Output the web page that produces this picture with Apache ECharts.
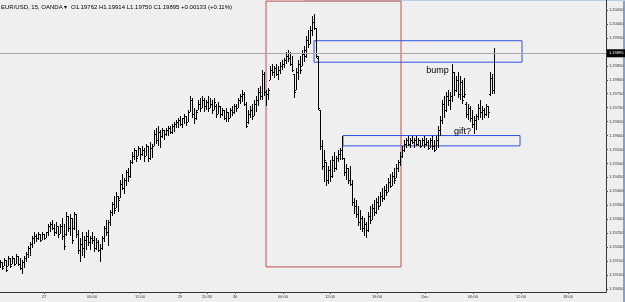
<!DOCTYPE html>
<html><head><meta charset="utf-8">
<script src="https://cdn.jsdelivr.net/npm/echarts@6/dist/echarts.min.js"></script>
<style>html,body{margin:0;padding:0;background:#efefef}#c{width:625px;height:302px}</style>
</head><body><div id="c"></div>
<script>
const symbolName = 'EUR/USD, 15, OANDA \u25BE';
const quoteText = 'O1.19762 H1.19914 L1.19750 C1.19895 +0.00133 (+0.11%)';
// [open, high, low, close] per 15-minute bar
const ohlc = [
[1.19133,1.19154,1.19125,1.19147],[1.19147,1.19147,1.19118,1.19125],[1.19133,1.19161,1.19133,1.19154],[1.19154,1.19154,1.19111,1.19118],
[1.19133,1.19168,1.19133,1.19161],[1.19161,1.19161,1.19125,1.19133],[1.19140,1.19168,1.19140,1.19161],[1.19161,1.19161,1.19133,1.19140],
[1.19140,1.19176,1.19140,1.19168],[1.19168,1.19168,1.19133,1.19140],[1.19140,1.19161,1.19118,1.19125],[1.19125,1.19154,1.19104,1.19147],
[1.19147,1.19168,1.19125,1.19161],[1.19161,1.19183,1.19147,1.19176],[1.19176,1.19204,1.19161,1.19197],[1.19197,1.19219,1.19168,1.19212],
[1.19212,1.19240,1.19197,1.19233],[1.19233,1.19255,1.19212,1.19240],[1.19240,1.19247,1.19219,1.19233],[1.19233,1.19255,1.19226,1.19247],
[1.19247,1.19247,1.19219,1.19226],[1.19226,1.19255,1.19226,1.19247],[1.19247,1.19247,1.19226,1.19233],[1.19233,1.19255,1.19233,1.19255],
[1.19255,1.19283,1.19240,1.19276],[1.19276,1.19290,1.19255,1.19283],[1.19283,1.19298,1.19262,1.19269],[1.19269,1.19283,1.19240,1.19255],
[1.19255,1.19290,1.19247,1.19276],[1.19276,1.19276,1.19233,1.19247],[1.19247,1.19283,1.19247,1.19276],[1.19276,1.19305,1.19226,1.19240],
[1.19240,1.19283,1.19190,1.19204],[1.19247,1.19326,1.19240,1.19312],[1.19312,1.19312,1.19255,1.19269],[1.19269,1.19319,1.19240,1.19305],
[1.19305,1.19305,1.19212,1.19226],[1.19269,1.19326,1.19262,1.19319],[1.19319,1.19319,1.19233,1.19247],[1.19247,1.19262,1.19176,1.19190],
[1.19190,1.19233,1.19147,1.19212],[1.19212,1.19255,1.19168,1.19197],[1.19197,1.19240,1.19161,1.19226],[1.19226,1.19255,1.19190,1.19240],
[1.19240,1.19262,1.19204,1.19219],[1.19219,1.19240,1.19190,1.19233],[1.19233,1.19255,1.19212,1.19226],[1.19226,1.19240,1.19183,1.19197],
[1.19197,1.19233,1.19190,1.19219],[1.19219,1.19226,1.19183,1.19190],[1.19190,1.19212,1.19147,1.19197],[1.19197,1.19240,1.19190,1.19233],
[1.19233,1.19276,1.19219,1.19269],[1.19269,1.19298,1.19240,1.19255],[1.19255,1.19298,1.19204,1.19290],[1.19290,1.19333,1.19276,1.19326],
[1.19326,1.19362,1.19312,1.19355],[1.19355,1.19384,1.19319,1.19333],[1.19341,1.19398,1.19341,1.19384],[1.19384,1.19384,1.19326,1.19369],
[1.19376,1.19441,1.19376,1.19427],[1.19427,1.19462,1.19405,1.19412],[1.19412,1.19448,1.19391,1.19441],[1.19441,1.19477,1.19419,1.19470],
[1.19470,1.19484,1.19434,1.19455],[1.19455,1.19513,1.19448,1.19505],[1.19505,1.19541,1.19498,1.19527],[1.19527,1.19556,1.19513,1.19548],
[1.19548,1.19548,1.19505,1.19520],[1.19527,1.19563,1.19527,1.19556],[1.19556,1.19556,1.19513,1.19534],[1.19534,1.19563,1.19527,1.19548],
[1.19548,1.19556,1.19505,1.19527],[1.19527,1.19570,1.19527,1.19563],[1.19563,1.19563,1.19505,1.19520],[1.19520,1.19577,1.19513,1.19556],
[1.19556,1.19570,1.19520,1.19563],[1.19563,1.19620,1.19563,1.19606],[1.19606,1.19627,1.19570,1.19584],[1.19584,1.19634,1.19563,1.19613],
[1.19613,1.19620,1.19556,1.19599],[1.19599,1.19627,1.19591,1.19620],[1.19620,1.19620,1.19584,1.19606],[1.19606,1.19627,1.19599,1.19620],
[1.19620,1.19634,1.19599,1.19627],[1.19627,1.19634,1.19606,1.19613],[1.19613,1.19642,1.19606,1.19634],[1.19634,1.19649,1.19613,1.19642],
[1.19642,1.19656,1.19627,1.19649],[1.19649,1.19663,1.19627,1.19656],[1.19656,1.19670,1.19634,1.19642],[1.19642,1.19663,1.19627,1.19663],
[1.19663,1.19677,1.19642,1.19670],[1.19670,1.19670,1.19634,1.19649],[1.19649,1.19692,1.19649,1.19685],[1.19685,1.19742,1.19685,1.19728],
[1.19728,1.19735,1.19663,1.19677],[1.19677,1.19699,1.19642,1.19663],[1.19663,1.19692,1.19656,1.19685],[1.19692,1.19728,1.19692,1.19713],
[1.19713,1.19735,1.19685,1.19699],[1.19699,1.19742,1.19699,1.19728],[1.19728,1.19735,1.19685,1.19706],[1.19706,1.19728,1.19692,1.19720],
[1.19720,1.19742,1.19685,1.19699],[1.19699,1.19735,1.19699,1.19713],[1.19713,1.19728,1.19677,1.19692],[1.19692,1.19735,1.19692,1.19720],
[1.19706,1.19713,1.19663,1.19677],[1.19677,1.19720,1.19677,1.19706],[1.19706,1.19706,1.19663,1.19677],[1.19677,1.19699,1.19670,1.19692],
[1.19692,1.19692,1.19656,1.19663],[1.19663,1.19699,1.19649,1.19685],[1.19685,1.19685,1.19649,1.19663],[1.19663,1.19699,1.19663,1.19692],
[1.19692,1.19706,1.19670,1.19685],[1.19685,1.19713,1.19677,1.19706],[1.19706,1.19713,1.19685,1.19699],[1.19699,1.19735,1.19699,1.19728],
[1.19728,1.19749,1.19713,1.19742],[1.19742,1.19763,1.19720,1.19749],[1.19749,1.19756,1.19706,1.19713],[1.19713,1.19720,1.19627,1.19634],
[1.19649,1.19692,1.19642,1.19677],[1.19677,1.19706,1.19663,1.19692],[1.19692,1.19713,1.19656,1.19670],[1.19670,1.19728,1.19670,1.19713],
[1.19713,1.19742,1.19685,1.19728],[1.19728,1.19771,1.19706,1.19756],[1.19756,1.19778,1.19728,1.19742],[1.19742,1.19835,1.19728,1.19821],
[1.19821,1.19828,1.19742,1.19756],[1.19756,1.19763,1.19706,1.19749],[1.19749,1.19771,1.19728,1.19763],[1.19799,1.19849,1.19799,1.19835],
[1.19835,1.19857,1.19814,1.19828],[1.19828,1.19849,1.19806,1.19842],[1.19842,1.19857,1.19814,1.19821],[1.19821,1.19849,1.19799,1.19835],
[1.19835,1.19864,1.19821,1.19849],[1.19849,1.19871,1.19835,1.19857],[1.19857,1.19878,1.19842,1.19871],[1.19871,1.19900,1.19857,1.19885],
[1.19885,1.19907,1.19864,1.19878],[1.19878,1.19900,1.19849,1.19857],[1.19857,1.19885,1.19828,1.19835],[1.19821,1.19821,1.19735,1.19756],
[1.19763,1.19842,1.19763,1.19828],[1.19828,1.19871,1.19799,1.19857],[1.19857,1.19885,1.19821,1.19835],[1.19849,1.19907,1.19849,1.19892],
[1.19892,1.19921,1.19864,1.19907],[1.19885,1.19957,1.19878,1.19943],[1.19943,1.19978,1.19914,1.19928],[1.19928,1.19993,1.19928,1.19978],
[1.19978,1.20029,1.19957,1.20007],[1.20007,1.20036,1.19978,1.19986],[1.19986,1.19986,1.19878,1.19885],[1.19878,1.19885,1.19692,1.19699],
[1.19692,1.19692,1.19548,1.19563],[1.19563,1.19584,1.19477,1.19491],[1.19491,1.19548,1.19434,1.19513],[1.19505,1.19505,1.19419,1.19441],
[1.19441,1.19491,1.19427,1.19477],[1.19477,1.19513,1.19434,1.19455],[1.19455,1.19527,1.19448,1.19513],[1.19513,1.19541,1.19470,1.19484],
[1.19484,1.19527,1.19477,1.19520],[1.19520,1.19548,1.19505,1.19534],[1.19534,1.19556,1.19513,1.19548],[1.19548,1.19599,1.19513,1.19520],
[1.19520,1.19520,1.19455,1.19470],[1.19470,1.19498,1.19441,1.19484],[1.19484,1.19484,1.19427,1.19441],[1.19441,1.19491,1.19419,1.19427],
[1.19427,1.19441,1.19348,1.19362],[1.19362,1.19376,1.19319,1.19348],[1.19348,1.19369,1.19305,1.19319],[1.19319,1.19348,1.19276,1.19290],
[1.19290,1.19333,1.19262,1.19305],[1.19305,1.19312,1.19255,1.19269],[1.19269,1.19305,1.19240,1.19283],[1.19283,1.19290,1.19233,1.19262],
[1.19262,1.19326,1.19255,1.19312],[1.19312,1.19348,1.19283,1.19298],[1.19298,1.19355,1.19298,1.19341],[1.19341,1.19369,1.19312,1.19326],
[1.19326,1.19376,1.19319,1.19362],[1.19362,1.19384,1.19333,1.19348],[1.19348,1.19398,1.19348,1.19384],[1.19384,1.19412,1.19362,1.19376],
[1.19376,1.19419,1.19369,1.19405],[1.19405,1.19427,1.19384,1.19398],[1.19398,1.19448,1.19398,1.19434],[1.19434,1.19462,1.19412,1.19419],
[1.19419,1.19470,1.19419,1.19455],[1.19455,1.19484,1.19427,1.19441],[1.19448,1.19498,1.19448,1.19484],[1.19484,1.19513,1.19470,1.19505],
[1.19505,1.19541,1.19491,1.19527],[1.19527,1.19563,1.19520,1.19548],[1.19548,1.19584,1.19541,1.19570],[1.19570,1.19591,1.19556,1.19584],
[1.19584,1.19599,1.19563,1.19570],[1.19570,1.19591,1.19556,1.19584],[1.19584,1.19599,1.19570,1.19577],[1.19577,1.19591,1.19556,1.19584],
[1.19584,1.19599,1.19563,1.19570],[1.19570,1.19591,1.19563,1.19584],[1.19584,1.19584,1.19556,1.19563],[1.19563,1.19591,1.19563,1.19584],
[1.19584,1.19599,1.19556,1.19570],[1.19570,1.19591,1.19563,1.19577],[1.19577,1.19584,1.19548,1.19556],[1.19556,1.19591,1.19556,1.19584],
[1.19584,1.19599,1.19548,1.19563],[1.19563,1.19584,1.19541,1.19548],[1.19548,1.19599,1.19548,1.19584],[1.19584,1.19634,1.19556,1.19620],
[1.19620,1.19670,1.19599,1.19656],[1.19656,1.19728,1.19642,1.19713],[1.19713,1.19742,1.19663,1.19692],[1.19692,1.19756,1.19685,1.19742],
[1.19742,1.19763,1.19706,1.19728],[1.19728,1.19756,1.19692,1.19742],[1.19742,1.19857,1.19720,1.19828],[1.19828,1.19828,1.19742,1.19763],
[1.19763,1.19814,1.19756,1.19799],[1.19799,1.19828,1.19735,1.19749],[1.19749,1.19814,1.19728,1.19792],[1.19792,1.19799,1.19713,1.19728],
[1.19742,1.19806,1.19735,1.19749],[1.19713,1.19720,1.19663,1.19677],[1.19677,1.19713,1.19656,1.19699],[1.19699,1.19706,1.19649,1.19663],
[1.19663,1.19692,1.19627,1.19642],[1.19642,1.19670,1.19606,1.19656],[1.19656,1.19677,1.19620,1.19670],[1.19670,1.19713,1.19656,1.19699],
[1.19699,1.19728,1.19663,1.19685],[1.19685,1.19706,1.19656,1.19692],[1.19692,1.19699,1.19663,1.19677],[1.19677,1.19713,1.19670,1.19706],
[1.19706,1.19706,1.19663,1.19685],[1.19749,1.19828,1.19742,1.19806],[1.19806,1.19821,1.19749,1.19763],[1.19762,1.19914,1.19750,1.19895]
];
const slotCount = 303;
const timeTickPos = [21.5, 45.5, 69.5, 89.5, 103, 117, 141, 164.5, 188, 212, 236, 260, 283.5];
const timeTickText = ['27','06:00','12:00','29','20:30','30','06:00','12:00','18:00','Dec','06:00','12:00','18:00'];
const priceTicks = [1.19050,1.19100,1.19150,1.19200,1.19250,1.19300,1.19350,1.19400,1.19450,1.19500,1.19550,1.19600,1.19650,1.19700,1.19750,1.19800,1.19850,1.19900,1.19950,1.20000,1.20050];
const lastPrice = 1.19895;
const redZone = [[132.5, 1.20082], [200, 1.19129]];
const blueZoneHigh = [[156.5, 1.19940], [260.5, 1.19863]];
const blueZoneLow = [[171, 1.19600], [259.5, 1.19563]];
const notes = [{name:'bump', at:[218.25, 1.19833]}, {name:'gift?', at:[230.75, 1.19613]}];

const chart = echarts.init(document.getElementById('c'), null, {renderer:'canvas'});
const FONT = 'Liberation Sans';
function renderItem(params, api) {
  const i = api.value(0);
  const o = api.coord([i, api.value(1)]);
  const h = api.coord([i, api.value(2)]);
  const l = api.coord([i, api.value(3)]);
  const c = api.coord([i, api.value(4)]);
  const L = Math.round(o[0] - 1);
  const top = Math.round(h[1]), bot = Math.round(l[1]);
  const st = {fill:'#000'};
  return {type:'group', children:[
    {type:'rect', shape:{x:L, y:top, width:1, height:Math.max(1, bot-top)}, style:st},
    {type:'rect', shape:{x:L-1, y:Math.round(o[1]), width:1, height:1}, style:st},
    {type:'rect', shape:{x:L+1, y:Math.round(c[1]), width:1, height:1}, style:st}
  ]};
}
const option = {
  animation:false,
  backgroundColor:'#efefef',
  title:[
    {text:symbolName, left:1, top:4, padding:0, textStyle:{fontSize:6, fontWeight:'normal', color:'#000', fontFamily:FONT}},
    {text:quoteText, left:71, top:4, padding:0, textStyle:{fontSize:6, fontWeight:'normal', color:'#000', fontFamily:FONT}}
  ],
  grid:{left:0, right:19, top:0, bottom:10, containLabel:false, outerBoundsMode:'none'},
  xAxis:{type:'value', min:-0.5, max:slotCount-0.5, splitLine:{show:false},
    axisLine:{show:true, onZero:false, lineStyle:{color:'#333', width:1}},
    axisTick:{show:true, length:2, customValues:timeTickPos, lineStyle:{color:'#555'}},
    axisLabel:{customValues:timeTickPos, formatter:(v)=>timeTickText[timeTickPos.indexOf(v)] || '', fontSize:4, color:'#333', margin:3, fontFamily:FONT}},
  yAxis:{type:'value', position:'right', min:1.19039, max:1.20086, scale:true, splitLine:{show:false},
    axisLine:{show:true, onZero:false, lineStyle:{color:'#333', width:1}},
    axisTick:{show:true, length:2, customValues:priceTicks, lineStyle:{color:'#555'}},
    axisLabel:{customValues:priceTicks, formatter:(v)=>v.toFixed(5), fontSize:4, color:'#333', margin:3, fontFamily:FONT}},
  graphic:[
    {type:'rect', shape:{x:623, y:0, width:2, height:302}, style:{fill:'#7fa3d6'}},
    {type:'rect', shape:{x:304, y:0, width:321, height:1}, style:{fill:'#b9cde8'}}
  ],
  series:[
    {type:'custom', renderItem, silent:true, clip:true, z:3,
      encode:{x:0, y:[1,2,3,4]},
      data:ohlc.map((b,i)=>[i, b[0], b[1], b[2], b[3]])},
    {type:'line', data:[], silent:true, z:2,
      markLine:{silent:true, symbol:['none','none'], animation:false,
        lineStyle:{color:'#aaaaaa', type:'solid', width:1},
        label:{show:true, position:'end', distance:1, formatter:()=>lastPrice.toFixed(5), backgroundColor:'#000', color:'#fff', fontSize:4, padding:[2,2,2,2], fontFamily:FONT},
        data:[[{coord:[-0.5, lastPrice]}, {coord:[slotCount-0.5, lastPrice]}]]},
      markArea:{silent:true, animation:false,
        data:[
          [{coord:redZone[0], itemStyle:{color:'rgba(0,0,0,0)', borderColor:'#c0504f', borderWidth:1}}, {coord:redZone[1]}],
          [{coord:blueZoneHigh[0], itemStyle:{color:'rgba(0,0,0,0)', borderColor:'#3350e6', borderWidth:1}}, {coord:blueZoneHigh[1]}],
          [{coord:blueZoneLow[0], itemStyle:{color:'rgba(0,0,0,0)', borderColor:'#3350e6', borderWidth:1}}, {coord:blueZoneLow[1]}]
        ]},
      markPoint:{silent:true, animation:false, symbol:'circle', symbolSize:1, itemStyle:{color:'rgba(0,0,0,0)'},
        label:{show:true, position:'inside', formatter:'{b}', color:'#000', fontSize:9, fontFamily:FONT},
        data:notes.map(n=>({name:n.name, coord:n.at}))}
    }
  ]
};
chart.setOption(option);
</script></body></html>
